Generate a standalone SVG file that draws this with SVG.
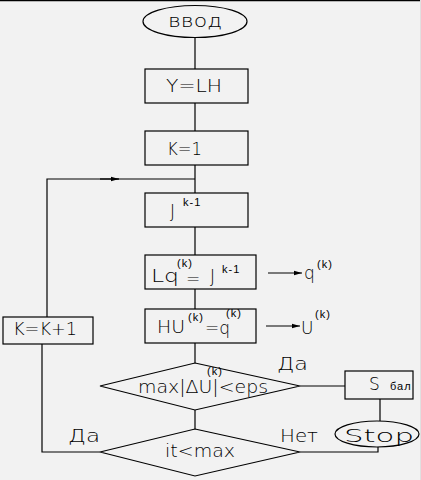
<svg xmlns="http://www.w3.org/2000/svg" width="421" height="480" viewBox="0 0 421 480">
<defs>
<style>
.bg{fill:#f2f2f2}
.s{fill:none;stroke:#000;stroke-width:1.2}
.b{fill:#f2f2f2;stroke:#000;stroke-width:1.2}
text{font-family:"DejaVu Sans","Liberation Sans",sans-serif;fill:#000;font-weight:200}
.t{font-size:17px}
.sm{font-size:11px;font-weight:400;font-family:"Liberation Sans","DejaVu Sans",sans-serif;letter-spacing:1px}
</style>
<marker id="ah" markerWidth="8" markerHeight="6" refX="8" refY="3" orient="auto" markerUnits="userSpaceOnUse">
<path d="M0,0.8 L8,3 L0,5.2 Z" fill="#000"/>
</marker>
</defs>
<rect class="bg" x="0" y="0" width="421" height="480"/>
<line x1="0" y1="0.5" x2="421" y2="0.5" stroke="#000" stroke-width="1.5"/>
<line x1="420.5" y1="0" x2="420.5" y2="480" stroke="#e0e0e0" stroke-width="1"/>

<g id="connectors">
<path class="s" d="M195,38 V69 M195,103 V131 M195,165 V193 M195,227 V255 M195,289 V309 M195,343 V363 M195,410 V429"/>
<path class="s" d="M100,452 H42 V344 M47,317 V179 H195"/>
<path class="s" d="M100,179 H119" marker-end="url(#ah)"/>
<path class="s" d="M300,386 H345 M380,399 V421 M300,452 H378 V447"/>
<path class="s" d="M268,273 H302" marker-end="url(#ah)"/>
<path class="s" d="M266,326 H300" marker-end="url(#ah)"/>
</g>

<g id="input">
<ellipse class="b" cx="195" cy="21.5" rx="52" ry="16"/>
<text class="t" x="168" y="27" textLength="54" lengthAdjust="spacingAndGlyphs">ввод</text>
</g>

<g id="y-lh">
<rect class="b" x="145" y="69" width="103" height="34"/>
<text class="t" x="166" y="92" textLength="56" lengthAdjust="spacingAndGlyphs">Y=LH</text>
</g>

<g id="k1">
<rect class="b" x="145" y="131" width="103" height="34"/>
<text class="t" x="167" y="155" textLength="35" lengthAdjust="spacingAndGlyphs">K=1</text>
</g>

<g id="jk">
<rect class="b" x="145" y="193" width="103" height="34"/>
<text class="t" x="170" y="217">J</text>
<text class="sm" x="183" y="206">k-1</text>
</g>

<g id="lq">
<rect class="b" x="145" y="255" width="111" height="34"/>
<text class="t" x="151" y="282" textLength="28" lengthAdjust="spacingAndGlyphs">Lq</text>
<text class="sm" x="177" y="267">(k)</text>
<text class="t" x="186" y="285">=</text>
<text class="t" x="210" y="282">J</text>
<text class="sm" x="222" y="273">k-1</text>
</g>

<g id="hu">
<rect class="b" x="145" y="309" width="111" height="34"/>
<text class="t" x="157" y="333" textLength="28" lengthAdjust="spacingAndGlyphs">HU</text>
<text class="sm" x="188" y="321">(k)</text>
<text class="t" x="205" y="334" textLength="25" lengthAdjust="spacingAndGlyphs">=q</text>
<text class="sm" x="226" y="317">(k)</text>
</g>

<g id="q-out">
<text class="t" x="304" y="279">q</text>
<text class="sm" x="317" y="268">(k)</text>
</g>

<g id="u-out">
<text class="t" x="301" y="334">U</text>
<text class="sm" x="315" y="318">(k)</text>
</g>

<g id="kk1">
<rect class="b" x="3" y="317" width="90" height="27"/>
<text class="t" x="13" y="335" textLength="64" lengthAdjust="spacingAndGlyphs">K=K+1</text>
</g>

<g id="cond1">
<polygon class="b" points="195,363 300,386 195,410 100,386"/>
<text class="t" x="138" y="393" textLength="130" lengthAdjust="spacingAndGlyphs">max|ΔU|&lt;eps</text>
<text class="sm" x="207" y="375">(k)</text>
<text class="t" x="277" y="370" textLength="31" lengthAdjust="spacingAndGlyphs">Да</text>
</g>

<g id="sbal">
<rect class="b" x="345" y="371" width="68" height="28"/>
<text class="t" x="369" y="390">S</text>
<text class="sm" x="390" y="390">бал</text>
</g>

<g id="stop">
<ellipse class="b" cx="377" cy="434" rx="42" ry="13"/>
<text class="t" x="344" y="442" textLength="70" lengthAdjust="spacingAndGlyphs">Stop</text>
</g>

<g id="cond2">
<polygon class="b" points="195,429 300,452 195,476 100,452"/>
<text class="t" x="165" y="457" textLength="70" lengthAdjust="spacingAndGlyphs">it&lt;max</text>
<text class="t" x="68" y="442" textLength="32" lengthAdjust="spacingAndGlyphs">Да</text>
<text class="t" x="280" y="442" textLength="38" lengthAdjust="spacingAndGlyphs">Нет</text>
</g>
</svg>
